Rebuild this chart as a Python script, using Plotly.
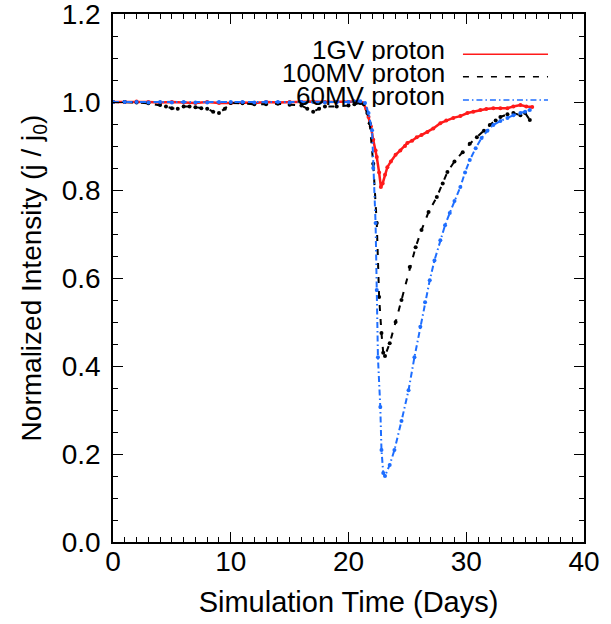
import plotly.graph_objects as go

# ---------------- data ----------------
red_t = [0, 1, 2, 3, 4, 5, 6, 7, 8, 9, 10, 11, 12, 13, 14, 15, 16, 17, 18, 19, 20, 20.5, 21.0, 21.2,
         21.5, 21.7, 21.9, 22.1, 22.3, 22.4, 22.6, 22.75, 22.9, 23.1, 23.3, 23.6, 24.0, 24.4, 24.8,
         25.0, 25.4, 25.8, 26.2, 26.7, 27.2, 27.8, 28.3, 28.9, 29.5, 30.1, 30.6, 31.2, 31.7, 32.3,
         32.9, 33.5, 34.0, 34.6, 35.1, 35.6]
red_v = [1.0, 1.0, 1.001, 1.0, 0.999, 1.0, 0.999, 0.998, 1.0, 0.998, 0.998, 0.999, 0.998, 1.0, 0.999,
         1.0, 1.0, 1.001, 1.0, 1.0, 1.0, 1.001, 0.999, 0.998, 0.985, 0.966, 0.945, 0.914, 0.89, 0.875,
         0.84, 0.807, 0.815, 0.835, 0.852, 0.865, 0.88, 0.89, 0.9, 0.907, 0.912, 0.92, 0.925, 0.932,
         0.94, 0.952, 0.958, 0.964, 0.968, 0.975, 0.978, 0.982, 0.984, 0.986, 0.986, 0.986, 0.99,
         0.993, 0.99, 0.989]

black_t = [0, 1, 2, 3, 4, 4.5, 5, 5.5, 6, 6.5, 7, 7.5, 8, 8.5, 9, 9.5, 10, 11, 12, 13, 14, 15, 16,
           16.5, 17, 17.5, 18, 19, 20, 20.5, 21.0, 21.3, 21.6, 21.8, 22.1, 22.4, 22.6, 22.8, 22.95,
           23.1, 23.5, 24.0, 24.5, 25.2, 25.7, 26.2, 26.8, 27.5, 28.0, 28.4, 29.0, 29.7, 30.3, 30.9,
           31.5, 32.0, 32.5, 32.9, 33.5, 34.0, 34.6, 35.0, 35.4]
black_v = [1.0, 1.0, 0.999, 0.997, 0.993, 0.99, 0.986, 0.985, 0.99, 0.99, 0.988, 0.986, 0.985, 0.978,
           0.975, 0.985, 0.998, 0.997, 0.995, 0.995, 0.996, 0.994, 0.992, 0.985, 0.978, 0.985, 0.99,
           0.99, 0.992, 0.995, 0.998, 0.995, 0.975, 0.952, 0.86, 0.725, 0.557, 0.475, 0.43, 0.423,
           0.452, 0.5, 0.55, 0.625, 0.67, 0.709, 0.75, 0.784, 0.815, 0.841, 0.865, 0.886, 0.905,
           0.92, 0.935, 0.948, 0.958, 0.966, 0.972, 0.975, 0.97, 0.975, 0.959]

blue_t = [0, 1, 2, 3, 4, 5, 6, 7, 8, 9, 10, 11, 12, 13, 14, 15, 16, 17, 18, 19, 20, 20.5, 21.0, 21.4,
          21.7, 22.0, 22.1, 22.3, 22.4, 22.5, 22.7, 22.8, 22.95, 23.1, 23.5, 23.9, 24.5, 25.1, 25.6,
          26.1, 26.5, 26.9, 27.3, 27.8, 28.2, 28.6, 29.0, 29.5, 29.9, 30.3, 30.8, 31.3, 31.8, 32.3,
          32.9, 33.5, 34.0, 34.6, 35.0, 35.4]
blue_v = [1.0, 1.0, 1.0, 0.999, 1.0, 0.999, 1.0, 0.999, 0.999, 1.0, 1.0, 1.0, 0.999, 1.0, 1.0, 0.999,
          1.0, 1.0, 0.999, 1.0, 1.0, 1.001, 1.002, 0.998, 0.975, 0.936, 0.85, 0.725, 0.573, 0.42,
          0.307, 0.209, 0.157, 0.15, 0.175, 0.209, 0.275, 0.345, 0.42, 0.489, 0.545, 0.595, 0.64,
          0.686, 0.72, 0.748, 0.775, 0.807, 0.84, 0.868, 0.895, 0.918, 0.935, 0.948, 0.957, 0.964,
          0.97, 0.975, 0.978, 0.982]

series_names = ["1GV proton", "100MV proton", "60MV proton"]
x_ticks = [0, 10, 20, 30, 40]
y_ticks = [0.0, 0.2, 0.4, 0.6, 0.8, 1.0, 1.2]

# ---------------- style ----------------
RED = "#ff1a1a"
BLACK = "#000000"
BLUE = "#1e6eff"
DASH_BLACK = "6px,8px"
DASH_BLUE = "6px,3px,1.5px,3px"
FONT = "Liberation Sans"

fig = go.Figure()
fig.add_trace(go.Scatter(x=red_t, y=red_v, mode="lines+markers", name=series_names[0],
                         line=dict(color=RED, width=2.5), marker=dict(color=RED, size=4)))
fig.add_trace(go.Scatter(x=black_t, y=black_v, mode="lines+markers", name=series_names[1],
                         line=dict(color=BLACK, width=2, dash=DASH_BLACK),
                         marker=dict(color=BLACK, size=4)))
fig.add_trace(go.Scatter(x=blue_t, y=blue_v, mode="lines+markers", name=series_names[2],
                         line=dict(color=BLUE, width=2, dash=DASH_BLUE),
                         marker=dict(color=BLUE, size=4)))

# custom legend: right-aligned text followed by line sample
leg_colors = [RED, BLACK, BLUE]
leg_dash = ["solid", DASH_BLACK, DASH_BLUE]
leg_text_y = [0.932, 0.888, 0.845]
leg_line_y = [0.924, 0.881, 0.837]
for i, name in enumerate(series_names):
    fig.add_annotation(x=0.709, y=leg_text_y[i], xref="paper", yref="paper", text=name,
                       showarrow=False, xanchor="right", yanchor="middle", height=22,
                       font=dict(family=FONT, size=26, color="black"))
    fig.add_shape(type="line", xref="paper", yref="paper", x0=0.743, x1=0.9236,
                  y0=leg_line_y[i], y1=leg_line_y[i],
                  line=dict(color=leg_colors[i], width=1.5, dash=leg_dash[i]))

axis_common = dict(showline=True, linecolor="black", linewidth=1.5, mirror="allticks",
                   ticks="inside", ticklen=10, tickwidth=1.2, tickcolor="black",
                   showgrid=False, zeroline=False, automargin=False,
                   ticklabeloverflow="allow",
                   tickfont=dict(family=FONT, size=28, color="black"))

fig.update_xaxes(range=[0, 40.0001], tickvals=x_ticks, ticktext=[str(v) for v in x_ticks],
                 minor=dict(dtick=1, tick0=0, ticks="inside", ticklen=5, tickcolor="black",
                            tickwidth=1),
                 title=dict(text="Simulation Time (Days)", font=dict(family=FONT, size=29, color="black"),
                            standoff=15),
                 ticklabelstandoff=-6,
                 **axis_common)
fig.update_yaxes(range=[0, 1.2001], tickvals=y_ticks, ticktext=[f"{v:.1f}" for v in y_ticks],
                 minor=dict(dtick=0.05, tick0=0, ticks="inside", ticklen=5, tickcolor="black",
                            tickwidth=1),
                 title=dict(text="Normalized Intensity (j / j<sub>0</sub>)",
                            font=dict(family=FONT, size=28, color="black"), standoff=12),
                 ticklabelstandoff=5,
                 **axis_common)

fig.update_layout(width=611, height=624, showlegend=False,
                  margin=dict(l=113, r=27, t=14, b=82),
                  plot_bgcolor="white", paper_bgcolor="white",
                  font=dict(family=FONT, color="black"))

fig.write_html("out.html", config={"displayModeBar": False},
               post_script="document.body.style.margin='0px';")
